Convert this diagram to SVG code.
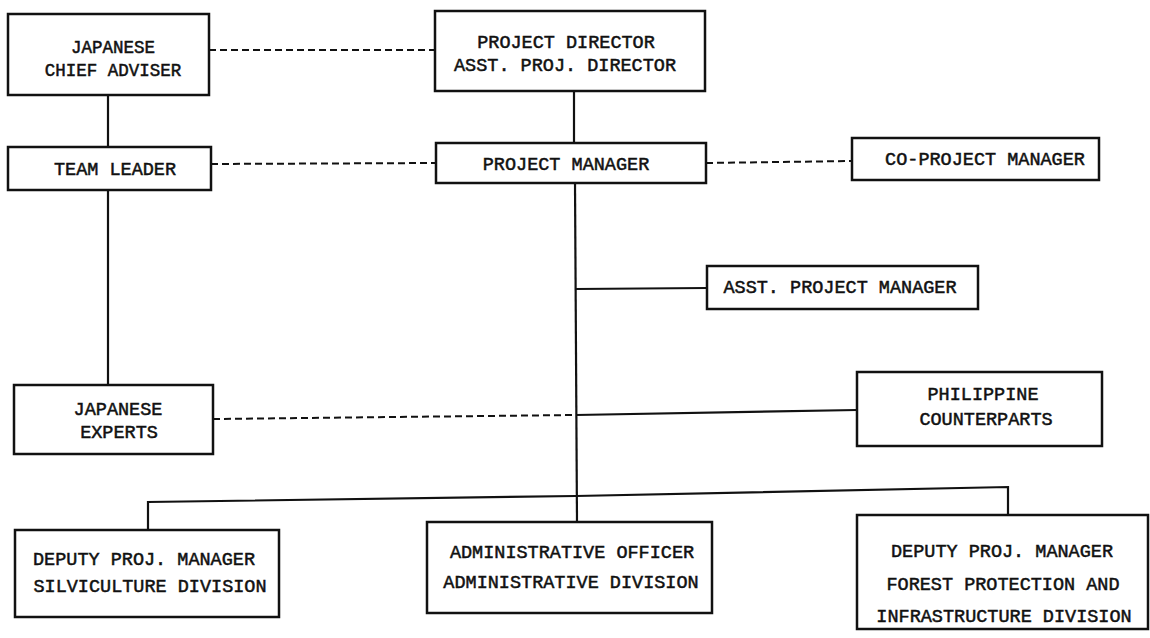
<svg xmlns="http://www.w3.org/2000/svg" width="1150" height="638" viewBox="0 0 1150 638">
<style>
.box{fill:#fff;stroke:#111;stroke-width:2.5}
.t{font-family:"Liberation Mono","DejaVu Sans Mono",monospace;font-size:18.5px;fill:#111;text-anchor:middle;stroke:#111;stroke-width:0.5}
.s{fill:none;stroke:#111;stroke-width:2.2}
.d{fill:none;stroke:#111;stroke-width:2;stroke-dasharray:7 4}
</style>
<rect width="1150" height="638" fill="#fff"/>
<g id="connectors">
<line class="s" x1="108" y1="95" x2="108" y2="147"/>
<line class="s" x1="108" y1="190" x2="108" y2="385"/>
<line class="d" x1="209" y1="50" x2="435" y2="50"/>
<line class="d" x1="211" y1="164" x2="436" y2="163"/>
<line class="d" x1="706" y1="163" x2="852" y2="161"/>
<line class="s" x1="574" y1="91" x2="574" y2="143"/>
<line class="s" x1="575" y1="183" x2="577" y2="522"/>
<line class="s" x1="575" y1="289" x2="707" y2="288"/>
<line class="d" x1="213" y1="419" x2="576" y2="415"/>
<line class="s" x1="576" y1="415" x2="857" y2="410"/>
<polyline class="s" points="148,530 148,502 576,496 1008,487 1008,515"/>
</g>
<g id="n-chief-adviser">
<rect class="box" x="8" y="14" width="201" height="81"/>
<text class="t" x="113" y="53" style="font-size:17.5px">JAPANESE</text>
<text class="t" x="113" y="76" style="font-size:17.5px">CHIEF ADVISER</text>
</g>
<g id="n-team-leader">
<rect class="box" x="8" y="147" width="203" height="43"/>
<text class="t" x="115" y="175">TEAM LEADER</text>
</g>
<g id="n-project-director">
<rect class="box" x="435" y="11" width="270" height="80"/>
<text class="t" x="566" y="48">PROJECT DIRECTOR</text>
<text class="t" x="565" y="71">ASST. PROJ. DIRECTOR</text>
</g>
<g id="n-project-manager">
<rect class="box" x="436" y="143" width="270" height="40"/>
<text class="t" x="566" y="170">PROJECT MANAGER</text>
</g>
<g id="n-co-project-manager">
<rect class="box" x="852" y="138" width="247" height="42"/>
<text class="t" x="985" y="165">CO-PROJECT MANAGER</text>
</g>
<g id="n-asst-project-manager">
<rect class="box" x="707" y="266" width="271" height="43"/>
<text class="t" x="840" y="293">ASST. PROJECT MANAGER</text>
</g>
<g id="n-japanese-experts">
<rect class="box" x="14" y="385" width="199" height="69"/>
<text class="t" x="118" y="415">JAPANESE</text>
<text class="t" x="119" y="438">EXPERTS</text>
</g>
<g id="n-philippine-counterparts">
<rect class="box" x="857" y="372" width="245" height="74"/>
<text class="t" x="983" y="400">PHILIPPINE</text>
<text class="t" x="986" y="425">COUNTERPARTS</text>
</g>
<g id="n-silviculture">
<rect class="box" x="15" y="530" width="264" height="87"/>
<text class="t" x="144" y="565">DEPUTY PROJ. MANAGER</text>
<text class="t" x="150" y="592">SILVICULTURE DIVISION</text>
</g>
<g id="n-administrative">
<rect class="box" x="427" y="522" width="285" height="91"/>
<text class="t" x="572" y="558">ADMINISTRATIVE OFFICER</text>
<text class="t" x="571" y="588">ADMINISTRATIVE DIVISION</text>
</g>
<g id="n-forest-protection">
<rect class="box" x="857" y="515" width="291" height="114"/>
<text class="t" x="1002" y="557">DEPUTY PROJ. MANAGER</text>
<text class="t" x="1003" y="590">FOREST PROTECTION AND</text>
<text class="t" x="1004" y="622">INFRASTRUCTURE DIVISION</text>
</g>
</svg>
